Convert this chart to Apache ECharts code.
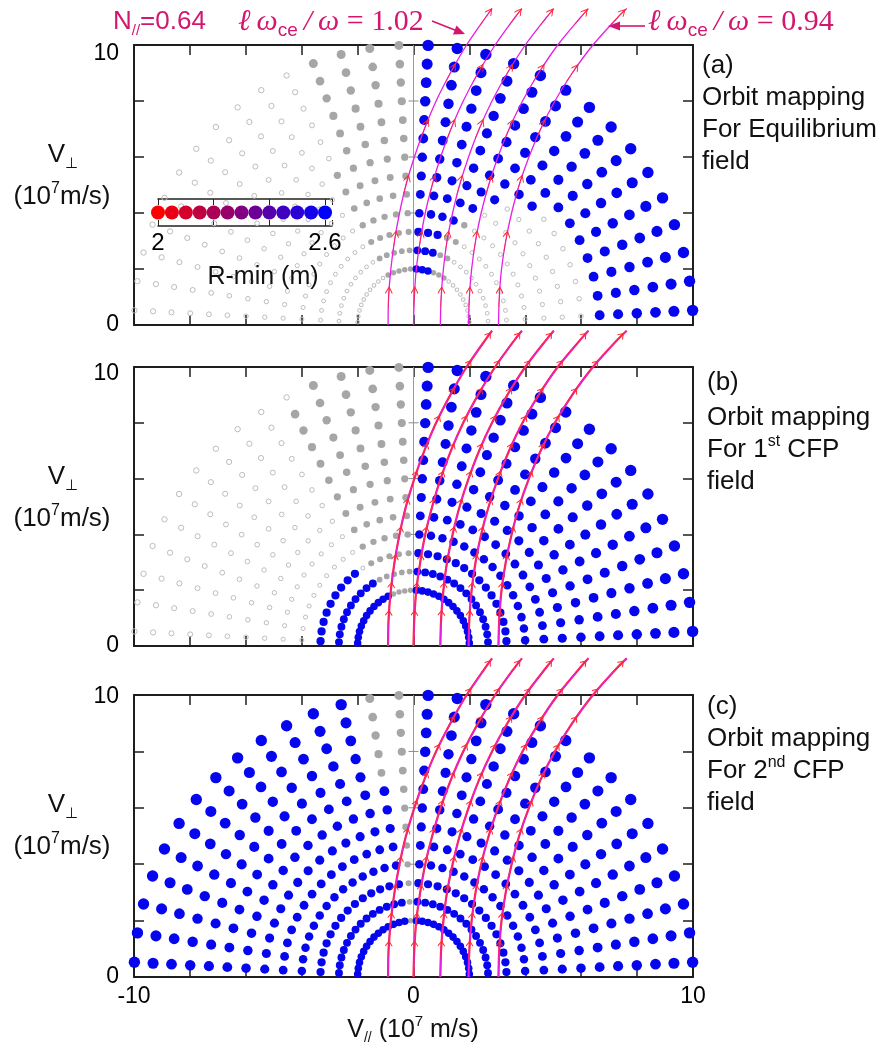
<!DOCTYPE html>
<html><head><meta charset="utf-8">
<script src="https://cdn.jsdelivr.net/npm/echarts@6/dist/echarts.min.js"></script>
<style>html,body{margin:0;padding:0;background:#fff}#c{width:888px;height:1054px}</style>
</head><body><div id="c"></div>
<script>
// ---------------- DATA ----------------
// speed rings (10^7 m/s) and pitch-angle rays (deg) of the orbit-mapping grid
const RADII = [2.00, 2.67, 3.33, 4.00, 4.67, 5.33, 6.00, 6.67, 7.33, 8.00, 8.67, 9.33, 10.00];
const PITCH = [3, 9, 15, 21, 27, 33, 39, 45, 51, 57, 63, 69, 75, 81, 87, 93, 99, 105, 111, 117, 123, 129, 135, 141, 147, 153, 159, 165, 171, 177];
// class of each dot along each ray (one char per ring): b = R-min 2.6 m (blue), g = grey filled, o = open grey
const MAP_A = [
  'ooooooobbbbbb','ooooooobbbbbb','ooooooobbbbbb','ooooooobbbbbb','ooooooobbbbbb',
  'ooooooobbbbbb','ooooooobbbbbb','oooooobbbbbbb','oooooobbbbbbb','goooobbbbbbbb',
  'ggggbbbbbbbbb','gggbbbbbbbbbb','bbbbbbbbbbbbb','bbbbbbbbbbbbb','bbbbbbbbbbbbb',
  'ggggggggggggg','ggggggggggggg','ggggggggggggg','ggggggggggggg','gggggggoooooo',
  'ooooooooooooo','ooooooooooooo','ooooooooooooo','ooooooooooooo','ooooooooooooo',
  'ooooooooooooo','ooooooooooooo','ooooooooooooo','ooooooooooooo','ooooooooooooo'
];
const MAP_B = [
  'bbbbbbbbbbbbb','bbbbbbbbbbbbb','bbbbbbbbbbbbb','bbbbbbbbbbbbb','bbbbbbbbbbbbb',
  'bbbbbbbbbbbbb','bbbbbbbbbbbbb','bbbbbbbbbbbbb','bbbbbbbbbbbbb','bbbbbbbbbbbbb',
  'bbbbbbbbbbbbb','bbbbbbbbbbbbb','bbbbbbbbbbbbb','bbbbbbbbbbbbb','bbbbbbbbbbbbb',
  'ggggggggggggg','ggggggggggggg','ggggggggggggg','ggggggggggggg','bgggggggggggo',
  'bbooooooooooo','bbboooooooooo','bbboooooooooo','bbboooooooooo','bbboooooooooo',
  'bbboooooooooo','bbboooooooooo','bbboooooooooo','bbboooooooooo','bbboooooooooo'
];
const MAP_C = [
  'bbbbbbbbbbbbb','bbbbbbbbbbbbb','bbbbbbbbbbbbb','bbbbbbbbbbbbb','bbbbbbbbbbbbb',
  'bbbbbbbbbbbbb','bbbbbbbbbbbbb','bbbbbbbbbbbbb','bbbbbbbbbbbbb','bbbbbbbbbbbbb',
  'bbbbbbbbbbbbb','bbbbbbbbbbbbb','bbbbbbbbbbbbb','bbbbbbbbbbbbb','bbbbbbbbbbbbb',
  'ggggggggggggg','bbbbbbbbggggg','bbbbbbbbbbbbb','bbbbbbbbbbbbb','bbbbbbbbbbbbb',
  'bbbbbbbbbbbbb','bbbbbbbbbbbbb','bbbbbbbbbbbbb','bbbbbbbbbbbbb','bbbbbbbbbbbbb',
  'bbbbbbbbbbbbb','bbbbbbbbbbbbb','bbbbbbbbbbbbb','bbbbbbbbbbbbb','bbbbbbbbbbbbb'
];
// resonance curves: V// at each V_perp, for l*wce/w = 1.02 ... 0.94 (N// = 0.64)
const VPERP   = [0, 1, 2, 3, 4, 5, 6, 7, 8, 9, 10, 11, 11.3];
const RES_102 = [-0.91,-0.89,-0.81,-0.68,-0.50,-0.27,0.03,0.39,0.81,1.32,1.90,2.59,2.81];
const RES_100 = [0.00,0.03,0.10,0.24,0.42,0.67,0.97,1.34,1.78,2.31,2.92,3.64,3.88];
const RES_098 = [0.96,0.99,1.07,1.20,1.40,1.65,1.97,2.35,2.81,3.36,4.00,4.77,5.02];
const RES_096 = [1.97,2.00,2.08,2.22,2.42,2.69,3.02,3.42,3.90,4.48,5.16,5.99,6.26];
const RES_094 = [3.04,3.07,3.15,3.30,3.51,3.78,4.13,4.55,5.06,5.68,6.42,7.32,7.63];
const ARROW_VPERP_A  = [1, 3, 5, 7, 9, 11];
const ARROW_VPERP_BC = [1, 2, 3, 4, 5, 6, 7, 8, 9, 10, 11];
// colour-scale legend
const RMIN_VALUES = [2.00,2.05,2.10,2.15,2.20,2.25,2.30,2.35,2.40,2.45,2.50,2.55,2.60];
const RMIN_TICK_LABELS = [2, 2.6];
// tick labels
const X_TICK_LABELS = [-10, 0, 10];
const Y_TICK_LABELS = [0, 10];
const X0_TICKS = [2, 4, 6, 8];
const PANEL_TEXT = [
  ['(a)', 'Orbit mapping', 'For Equilibrium', 'field'],
  ['(b)', 'Orbit mapping', 'For 1{p|st} CFP', 'field'],
  ['(c)', 'Orbit mapping', 'For 2{p|nd} CFP', 'field']
];

// ---------------- LAYOUT / STYLE ----------------
const FONT = 'Liberation Sans, Arial, Helvetica, sans-serif';
const SERIF = 'Liberation Serif, DejaVu Serif, Times New Roman, serif';
const ANN = '#d3166e';
const GL = 134, GW = 559;
const PANELS = [{top:45,h:280,tenPad:17},{top:367,h:279,tenPad:14},{top:695,h:282,tenPad:4}];
const MAPS = [MAP_A, MAP_B, MAP_C];
const CURVES = [RES_102, RES_100, RES_098, RES_096, RES_094];

function dots(map, cls) {
  const out = [];
  PITCH.forEach((deg, k) => {
    RADII.forEach((r, j) => {
      if (map[k][j] === cls) {
        const t = deg * Math.PI / 180;
        out.push([r * Math.cos(t), r * Math.sin(t), r]);
      }
    });
  });
  return out;
}

const grid = [], xAxis = [], yAxis = [], series = [];
PANELS.forEach((P, p) => {
  grid.push({left: GL, width: GW, top: P.top, height: P.h});
  const axLine = {onZero: false, lineStyle: {color: '#1e1e1e', width: 2}};
  const tick = {inside: true, length: 10, lineStyle: {color: '#1e1e1e', width: 1.5}};
  xAxis.push({gridIndex: p, type: 'value', min: -10, max: 10, interval: 2, position: 'bottom',
    axisLine: axLine, axisTick: tick, splitLine: {show: false},
    axisLabel: {show: p === 2, fontSize: 23, fontFamily: FONT, color: '#000', margin: 8,
      formatter: v => X_TICK_LABELS.includes(v) ? String(v) : ''}});
  xAxis.push({gridIndex: p, type: 'value', min: -10, max: 10, interval: 2, position: 'top',
    axisLine: axLine, axisTick: tick, splitLine: {show: false}, axisLabel: {show: false}});
  yAxis.push({gridIndex: p, type: 'value', min: 0, max: 10, interval: 2, position: 'left',
    axisLine: axLine, axisTick: tick, splitLine: {show: false},
    axisLabel: {margin: 15, color: '#000',
      formatter: v => v === Y_TICK_LABELS[1] ? '{t|10}' : (v === Y_TICK_LABELS[0] ? '{z|0}' : ''),
      rich: {t: {fontSize: 23, fontFamily: FONT, color: '#000', padding: [P.tenPad, 0, 0, 0]},
             z: {fontSize: 23, fontFamily: FONT, color: '#000'}}}});
  yAxis.push({gridIndex: p, type: 'value', min: 0, max: 10, interval: 2, position: 'right',
    axisLine: axLine, axisTick: tick, splitLine: {show: false}, axisLabel: {show: false}});

  const xi = 2 * p, yi = 2 * p;
  // V//=0 guide line
  series.push({type: 'line', xAxisIndex: xi, yAxisIndex: yi, data: [[0, 0], [0, 10]], symbol: 'none',
    lineStyle: {color: '#9a9a9a', width: 1}, silent: true, z: 1, animation: false});
  series.push({type: 'scatter', xAxisIndex: xi, yAxisIndex: yi, data: X0_TICKS.map(v => [0, v]),
    symbol: 'rect', symbolSize: [10, 1], itemStyle: {color: '#8a8a8a', opacity: 1}, silent: true, z: 1});
  const map = MAPS[p];
  series.push({type: 'scatter', xAxisIndex: xi, yAxisIndex: yi, data: dots(map, 'o'), clip: false,
    symbolSize: v => 3.2 + 0.22 * v[2],
    itemStyle: {color: 'rgba(255,255,255,0)', borderColor: '#bdbdbd', borderWidth: 1, opacity: 1}, silent: true, z: 2});
  series.push({type: 'scatter', xAxisIndex: xi, yAxisIndex: yi, data: dots(map, 'g'), clip: false,
    symbolSize: v => 4.6 + 0.44 * v[2], itemStyle: {color: '#a6a6a6', opacity: 1}, silent: true, z: 3});
  series.push({type: 'scatter', xAxisIndex: xi, yAxisIndex: yi, data: dots(map, 'b'), clip: false,
    symbolSize: v => 6.6 + 0.48 * v[2], itemStyle: {color: '#0505ee', opacity: 1}, silent: true, z: 4});

  const sx = GW / 20, sy = P.h / 10;
  CURVES.forEach(c => {
    const d = c.map((x, i) => [x, VPERP[i]]);
    if (p > 0) {
      series.push({type: 'line', xAxisIndex: xi, yAxisIndex: yi, data: d, smooth: 0.3, symbol: 'none',
        clip: false, lineStyle: {color: '#ff2430', width: 2.2}, silent: true, z: 5});
    }
    series.push({type: 'line', xAxisIndex: xi, yAxisIndex: yi, data: d, smooth: 0.3, symbol: 'none',
      clip: false, lineStyle: {color: '#e61ee6', width: 1.3}, silent: true, z: 6});
    const list = p === 0 ? ARROW_VPERP_A : ARROW_VPERP_BC;
    const arr = list.map(v => {
      const i = VPERP.indexOf(v);
      const dx = (c[i + 1] - c[i - 1]) * sx, dy = (VPERP[i + 1] - VPERP[i - 1]) * sy;
      return {value: [c[i], v], symbolRotate: -Math.atan2(dx, dy) * 180 / Math.PI};
    });
    series.push({type: 'scatter', xAxisIndex: xi, yAxisIndex: yi, data: arr, clip: false,
      symbol: 'path://M0,7 L4,0 L8,7 M4,0 L4,22', symbolSize: p === 0 ? [7, 20] : [7, 15],
      symbolKeepAspect: false,
      itemStyle: {color: 'none', borderColor: '#ff2a2a', borderWidth: 1, opacity: 1}, silent: true, z: 7});
  });
});

// colour-scale legend (R-min)
grid.push({left: 158, top: 199, width: 174, height: 27});
const lgAx = {onZero: false, lineStyle: {color: '#222', width: 1.5}};
xAxis.push({gridIndex: 3, type: 'value', min: 2, max: 2.625, interval: 0.2, position: 'bottom',
  axisLine: lgAx, axisTick: {inside: true, length: 6, lineStyle: {color: '#222'}}, splitLine: {show: false},
  axisLabel: {fontSize: 24, fontFamily: FONT, color: '#000', margin: 5,
    formatter: v => RMIN_TICK_LABELS.some(t => Math.abs(t - v) < 1e-6) ? String(+v.toFixed(1)) : ''}});
xAxis.push({gridIndex: 3, type: 'value', min: 2, max: 2.625, interval: 0.2, position: 'top',
  axisLine: lgAx, axisTick: {inside: true, length: 6, lineStyle: {color: '#222'}}, splitLine: {show: false},
  axisLabel: {show: false}});
yAxis.push({gridIndex: 3, type: 'value', min: 0, max: 1, show: false});
const legendIndex = series.length;
series.push({type: 'scatter', xAxisIndex: 6, yAxisIndex: 6, data: RMIN_VALUES.map(v => [v, 0.5]),
  symbolSize: 14, itemStyle: {opacity: 1}, silent: true, z: 10});

// ---------------- TEXT ----------------
const graphic = [];
function T(x, y, text, size, opt) {
  opt = opt || {};
  const fs = size;
  graphic.push({type: 'text', x: x, y: y, z: 100, silent: true, style: {
    text: text, fill: opt.fill || '#111', font: (opt.italic ? 'italic ' : '') + fs + 'px ' + (opt.family || FONT),
    align: opt.align || 'left', textAlign: opt.align || 'left', verticalAlign: 'middle', textVerticalAlign: 'middle',
    rich: Object.assign({
      n: {fontSize: fs, fontFamily: opt.family || FONT, fill: opt.fill || '#111', lineHeight: fs + 6, verticalAlign: 'middle'},
      s: {fontSize: Math.round(fs * 0.58), fontFamily: opt.family || FONT, fill: opt.fill || '#111', lineHeight: 12, verticalAlign: 'bottom'},
      p: {fontSize: Math.round(fs * 0.6), fontFamily: opt.family || FONT, fill: opt.fill || '#111', lineHeight: 14, verticalAlign: 'top'}
    }, opt.rich || {})
  }});
}
PANELS.forEach((P, p) => {
  T(63, P.top + 110, '{n|V}{s|⊥}', 26, {align: 'center'});
  T(62, P.top + 152, '{n|(10}{p|7}{n|m/s)}', 26, {align: 'center'});
});
const RIGHT_Y = [[66, 98, 130, 162], [383, 418, 450, 482], [707, 739, 771, 803]];
const RIGHT_X = [702, 707, 707];
PANEL_TEXT.forEach((lines, p) => {
  lines.forEach((s, i) => {
    const t = s.indexOf('{') >= 0 ? s.replace(/^([^{]*)\{p\|([^}]*)\}(.*)$/, '{n|$1}{p|$2}{n|$3}') : '{n|' + s + '}';
    T(RIGHT_X[p], RIGHT_Y[p][i], t, 26);
  });
});
T(413, 1030, '{n|V}{s|//}{n| (10}{p|7}{n| m/s)}', 25, {align: 'center'});
T(263, 277, '{n|R-min (m)}', 25, {align: 'center'});
// top annotations
T(113, 22, '{n|N}{s|//}{n|=0.64}', 26, {fill: ANN});
const mathRich = {
  i: {fontSize: 30, fontFamily: SERIF, fontStyle: 'italic', fill: ANN, lineHeight: 36, verticalAlign: 'middle'},
  r: {fontSize: 30, fontFamily: SERIF, fill: ANN, lineHeight: 36, verticalAlign: 'middle'},
  c: {fontSize: 19, fontFamily: FONT, fill: ANN, lineHeight: 14, verticalAlign: 'bottom'}
};
T(238, 22, '{i|ℓ\u2009ω}{c|ce}{i|\u2009/\u2009ω}{r| = 1.02}', 30, {fill: ANN, family: SERIF, rich: mathRich});
T(648, 22, '{i|ℓ\u2009ω}{c|ce}{i|\u2009/\u2009ω}{r| = 0.94}', 30, {fill: ANN, family: SERIF, rich: mathRich});
graphic.push({type: 'line', z: 100, silent: true, shape: {x1: 432, y1: 21, x2: 456, y2: 30.5}, style: {stroke: ANN, lineWidth: 1.6}});
graphic.push({type: 'polygon', z: 100, silent: true, shape: {points: [[465, 34], [453, 34.5], [456.5, 25.5]]}, style: {fill: ANN}});
graphic.push({type: 'line', z: 100, silent: true, shape: {x1: 645, y1: 26, x2: 618, y2: 26}, style: {stroke: ANN, lineWidth: 1.6}});
graphic.push({type: 'polygon', z: 100, silent: true, shape: {points: [[608, 26], [620, 21.5], [620, 30.5]]}, style: {fill: ANN}});

const chart = echarts.init(document.getElementById('c'));
chart.setOption({
  animation: false,
  backgroundColor: '#fff',
  grid: grid, xAxis: xAxis, yAxis: yAxis, series: series, graphic: graphic,
  visualMap: [{type: 'continuous', show: false, seriesIndex: legendIndex, dimension: 0, min: 2, max: 2.6,
    inRange: {color: ['#ff0000', '#0000ff']}}]
});
</script></body></html>
